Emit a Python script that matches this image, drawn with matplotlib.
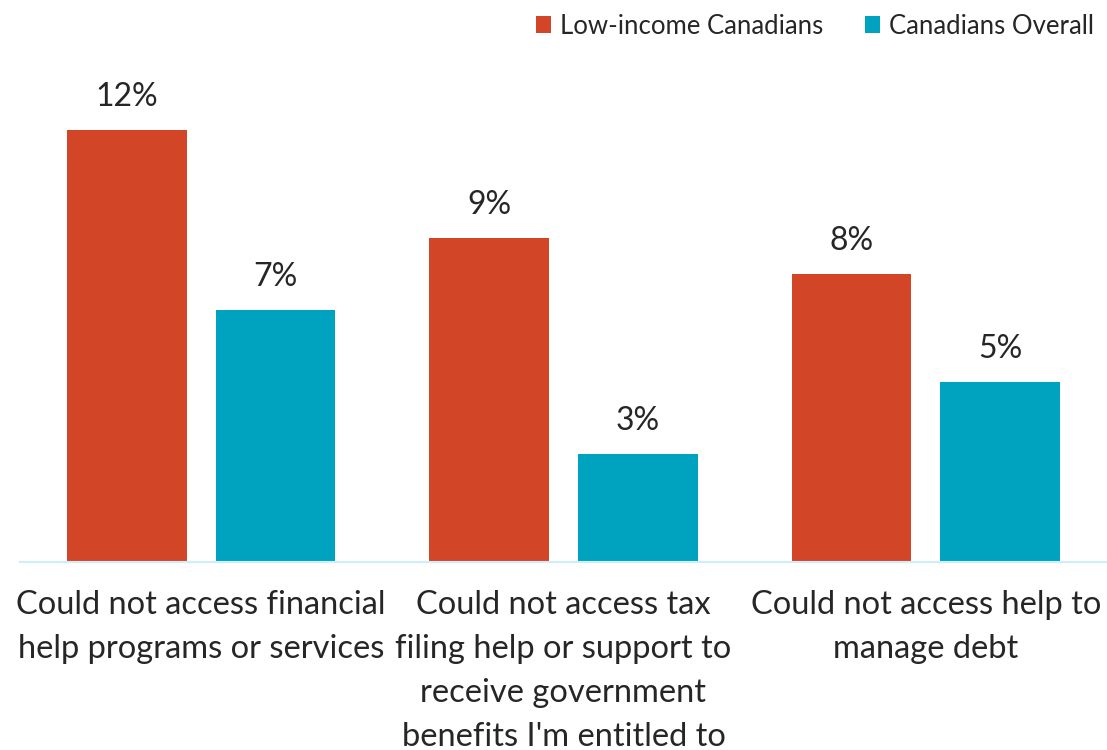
import matplotlib
matplotlib.use("Agg")
import matplotlib.pyplot as plt
import numpy as np

categories = [
    "Could not access financial\nhelp programs or services",
    "Could not access tax\nfiling help or support to\nreceive government\nbenefits I'm entitled to",
    "Could not access help to\nmanage debt",
]
series_names = ["Low-income Canadians", "Canadians Overall"]
low_income = [12, 9, 8]
overall = [7, 3, 5]
colors = ["#D24627", "#00A3BF"]
text_color = "#262626"

plt.rcParams["font.family"] = ["Lato", "DejaVu Sans"]

W, H = 1107, 750
fig = plt.figure(figsize=(W / 100, H / 100), dpi=100)
ax = fig.add_axes([20 / W, 1 - 562 / H, 1 - 20 / W, 502 / H])

x = np.arange(len(categories))
width = 0.33
offset = 0.205
for vals, off, col, name in [(low_income, -offset, colors[0], series_names[0]),
                             (overall, offset, colors[1], series_names[1])]:
    bars = ax.bar(x + off, vals, width, color=col, label=name, zorder=2)
    for b, v in zip(bars, vals):
        ax.annotate(f"{v}%", (b.get_x() + b.get_width() / 2, v),
                    xytext=(0, 13), textcoords="offset points",
                    ha="center", va="bottom", fontsize=23, color=text_color)

ax.set_xlim(-0.5, 2.5)
ax.set_ylim(0, 502 / 36.0)
ax.set_yticks([])
ax.set_xticks(x)
ax.set_xticklabels(categories, fontsize=23.5, color=text_color, linespacing=1.58)
ax.tick_params(axis="x", length=0, pad=20)
for s in ["top", "right", "left"]:
    ax.spines[s].set_visible(False)
ax.spines["bottom"].set_color("#CDEEFA")
ax.spines["bottom"].set_linewidth(1.5)

leg = fig.legend(loc="center right", bbox_to_anchor=(1094 / W, 1 - 26 / H), ncol=2,
                 frameon=False, fontsize=18.5, handlelength=0.6, handleheight=0.6,
                 handletextpad=0.35, columnspacing=1.6, borderpad=0, borderaxespad=0)
for t in leg.get_texts():
    t.set_color(text_color)

fig.savefig("out.png", dpi=100)
